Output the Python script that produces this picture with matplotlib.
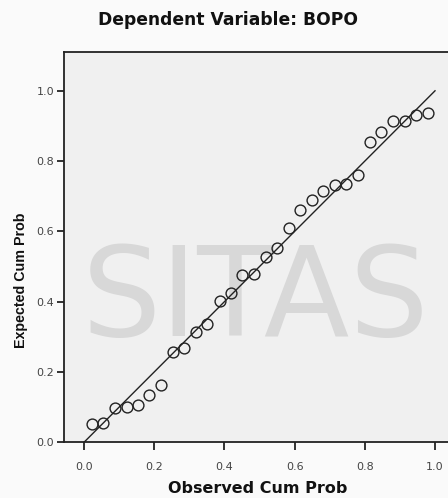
import matplotlib.pyplot as plt

# observed vs expected cumulative probabilities (P-P plot of residuals)
observed = [0.022, 0.055, 0.088, 0.121, 0.153, 0.186, 0.219, 0.254, 0.286, 0.319,
            0.351, 0.387, 0.418, 0.451, 0.483, 0.517, 0.550, 0.583, 0.615, 0.649,
            0.682, 0.715, 0.747, 0.781, 0.815, 0.847, 0.879, 0.914, 0.947, 0.980]
expected = [0.053, 0.055, 0.096, 0.100, 0.106, 0.135, 0.163, 0.258, 0.267, 0.314,
            0.335, 0.403, 0.425, 0.475, 0.480, 0.527, 0.554, 0.611, 0.661, 0.689,
            0.714, 0.731, 0.736, 0.759, 0.854, 0.882, 0.914, 0.914, 0.931, 0.937]
ticks = [0.0, 0.2, 0.4, 0.6, 0.8, 1.0]
ref_line = [0.0, 1.0]

plt.rcParams['font.family'] = ['DejaVu Sans']

fig = plt.figure(figsize=(4.48, 4.98), dpi=100)
fig.patch.set_facecolor('#fafafa')
ax = fig.add_axes([0.143, 0.112, 0.857, 0.784])
ax.set_facecolor('#f0f0f0')

# faint scanned watermark behind the data
ax.text(0.5, 0.36, "SITAS", transform=ax.transAxes, ha='center', va='center',
        fontsize=90, color='#d8d8d8', zorder=0)

ax.plot(ref_line, ref_line, color='#222222', lw=1.0, zorder=2)
ax.plot(observed, expected, 'o', mfc='none', mec='#222222', ms=7.8, mew=1.0, zorder=3)

ax.set_xlim(-0.057, 1.037)
ax.set_ylim(0.0, 1.111)
ax.set_xticks(ticks)
ax.set_yticks(ticks)
ax.set_xticklabels(["%.1f" % t for t in ticks])
ax.set_yticklabels(["%.1f" % t for t in ticks])
ax.tick_params(axis='x', direction='out', length=6, width=1.3, pad=8,
               labelsize=8, labelcolor='#444444', color='#222222')
ax.tick_params(axis='y', direction='out', length=5, width=1.3, pad=2,
               labelsize=8, labelcolor='#444444', color='#222222')

ax.spines['right'].set_visible(False)
for s in ['left', 'bottom', 'top']:
    ax.spines[s].set_linewidth(1.3)
    ax.spines[s].set_color('#222222')

fig.text(258 / 448, 5 / 498, "Observed Cum Prob", ha='center', va='baseline',
         fontsize=11.5, fontweight='bold', color='#111111')
fig.text(21 / 448, 1 - 280 / 498, "Expected Cum Prob", ha='center', va='center',
         rotation=90, fontsize=10.3, fontweight='bold', color='#111111',
         family=['Liberation Sans', 'DejaVu Sans'])
fig.text(228 / 448, 1 - 25 / 498, "Dependent Variable: BOPO", ha='center',
         va='baseline', fontsize=12.3, fontweight='bold', color='#111111')

fig.savefig("out.png", dpi=100)
